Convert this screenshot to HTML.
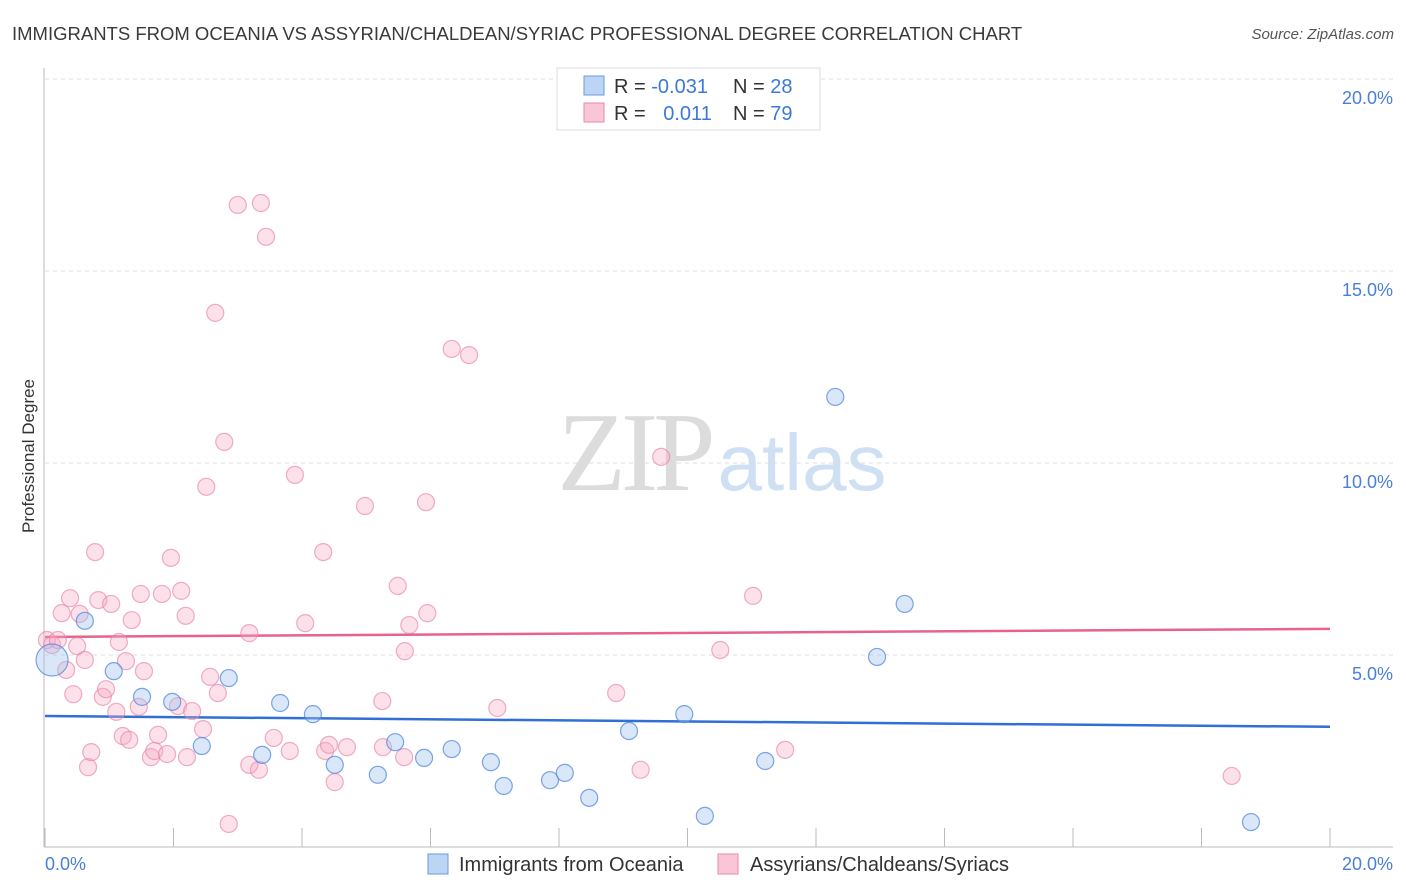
<!DOCTYPE html>
<html><head><meta charset="utf-8"><style>
body{margin:0;background:#fff;font-family:"Liberation Sans",sans-serif;}
svg{display:block}
</style></head><body>
<svg id="chart" width="1406" height="892" xmlns="http://www.w3.org/2000/svg">
<text x="12" y="40" font-size="18.5" fill="#3a3a3a">IMMIGRANTS FROM OCEANIA VS ASSYRIAN/CHALDEAN/SYRIAC PROFESSIONAL DEGREE CORRELATION CHART</text>
<text x="1394" y="39" font-size="15" fill="#555" font-style="italic" text-anchor="end">Source: ZipAtlas.com</text>
<g>
<text x="634" y="490" font-size="112" fill="#dcdcdc" font-family="Liberation Serif,serif" text-anchor="middle" letter-spacing="-5">ZIP</text>
<text x="802" y="490" font-size="80" fill="#cfe0f4" text-anchor="middle">atlas</text>
</g>
<g id="grid"></g>
<g id="axes"></g>
<g id="trend"></g>
<g id="points"></g>
<text x="34" y="456" font-size="17" fill="#333" text-anchor="middle" transform="rotate(-90 34 456)">Professional Degree</text>
<text x="45" y="870" font-size="18" fill="#4a7fd8">0.0%</text>
<text x="1393" y="870" font-size="18" fill="#4a7fd8" text-anchor="end">20.0%</text>
<g>
<rect x="557" y="68" width="263" height="62" fill="#fff" stroke="#ddd"/>
<rect x="584" y="76" width="20" height="19" fill="#bcd5f5" stroke="#6a9ae0"/>
<rect x="584" y="103" width="20" height="19" fill="#f8c6d6" stroke="#e88aa8"/>
<text x="614" y="93" font-size="20" fill="#333">R = <tspan fill="#3c78d8">-0.031</tspan></text>
<text x="733" y="93" font-size="20" fill="#333">N = <tspan fill="#3c78d8">28</tspan></text>
<text x="614" y="120" font-size="20" fill="#333">R = <tspan fill="#3c78d8" dx="12">0.011</tspan></text>
<text x="733" y="120" font-size="20" fill="#333">N = <tspan fill="#3c78d8">79</tspan></text>
</g>
<g>
<rect x="428" y="854" width="20" height="20" fill="#bcd5f5" stroke="#6a9ae0"/>
<text x="459" y="871" font-size="20" fill="#333">Immigrants from Oceania</text>
<rect x="718" y="854" width="20" height="20" fill="#f8c6d6" stroke="#e88aa8"/>
<text x="750" y="871" font-size="20" fill="#333">Assyrians/Chaldeans/Syriacs</text>
</g>
</svg>
<script>
const yTicks=[5,10,15,20];
const yTickLabels=["5.0%","10.0%","15.0%","20.0%"];
const blueX=[0.11,0.62,1.07,1.51,1.98,2.44,2.86,3.38,3.66,4.17,4.51,5.18,5.45,5.90,6.33,6.94,7.14,7.86,8.09,8.47,9.09,9.95,10.27,11.21,12.30,12.95,13.38,18.77];
const blueY=[4.87,5.89,4.58,3.91,3.78,2.63,4.40,2.40,3.75,3.46,2.14,1.88,2.73,2.32,2.55,2.21,1.59,1.74,1.93,1.28,3.02,3.46,0.81,2.24,11.72,4.95,6.33,0.65];
const pinkX=[0.03,0.11,0.20,0.26,0.39,0.33,0.44,0.54,0.50,0.62,0.67,0.72,0.78,0.83,0.90,0.95,1.03,1.11,1.15,1.21,1.26,1.31,1.35,1.46,1.49,1.54,1.65,1.70,1.76,1.82,1.90,1.96,2.07,2.12,2.19,2.21,2.29,2.46,2.51,2.57,2.65,2.69,2.79,2.86,3.00,3.18,3.18,3.33,3.36,3.44,3.56,3.81,3.89,4.05,4.33,4.36,4.42,4.51,4.70,4.98,5.25,5.26,5.49,5.59,5.60,5.67,5.93,5.95,6.33,6.60,7.04,8.89,9.27,9.59,10.51,11.02,11.52,18.47];
const pinkY=[5.39,5.26,5.39,6.09,6.48,4.61,3.98,6.07,5.23,4.87,2.08,2.47,7.68,6.43,3.91,4.11,6.33,3.52,5.34,2.89,4.84,2.79,5.91,3.65,6.59,4.58,2.34,2.50,2.92,6.59,2.42,7.53,3.67,6.67,6.02,2.34,3.54,3.07,9.38,4.43,13.91,4.01,10.55,0.60,16.72,2.14,5.57,2.01,16.77,15.89,2.84,2.50,9.69,5.83,7.68,2.50,2.66,1.69,2.60,8.88,3.80,2.60,6.80,2.34,5.10,5.78,8.98,6.09,12.97,12.81,3.62,4.01,2.01,10.16,5.13,6.54,2.53,1.85];
const blueTrend=[3.41,3.13];
const pinkTrend=[5.47,5.68];
const NS="http://www.w3.org/2000/svg";
const sx=v=>45+v/20*1285;
const sy=v=>847-v*38.4;
function mk(tag,attrs,parent){const e=document.createElementNS(NS,tag);for(const k in attrs)e.setAttribute(k,attrs[k]);document.getElementById(parent).appendChild(e);return e;}
yTicks.forEach((t,i)=>{
 const l=mk('line',{x1:45,x2:1393,y1:sy(t),y2:sy(t),stroke:'#ddd','stroke-dasharray':'4 4'},'grid');
 
 
 const tx=mk('text',{x:1393,y:sy(t)+25,'font-size':18,fill:'#4a7fd8','text-anchor':'end'},'grid');
 tx.textContent=yTickLabels[i];
 
 
});
const ya=mk('line',{x1:44,x2:44,y1:68,y2:847,stroke:'#bbb'},'axes');


const xa=mk('line',{x1:44,x2:1393,y1:847,y2:847,stroke:'#bbb'},'axes');


for(let i=0;i<=10;i++){
 const t=mk('line',{x1:sx(i*2),x2:sx(i*2),y1:828,y2:847,stroke:'#bbb'},'axes');
 
 
}
const bt=mk('line',{x1:sx(0),x2:sx(20),y1:sy(blueTrend[0]),y2:sy(blueTrend[1]),stroke:'#2f6fd6','stroke-width':2.5},'trend');


const pt=mk('line',{x1:sx(0),x2:sx(20),y1:sy(pinkTrend[0]),y2:sy(pinkTrend[1]),stroke:'#e8628e','stroke-width':2.5},'trend');


pinkX.forEach((x,i)=>{
 const c=mk('circle',{cx:sx(x),cy:sy(pinkY[i]),r:8.5,fill:'rgba(245,170,195,0.35)',stroke:'rgba(232,130,165,0.65)','stroke-width':1.2},'points');
 
 
});
blueX.forEach((x,i)=>{
 const c=mk('circle',{cx:sx(x),cy:sy(blueY[i]),r:i===0?16:8.5,fill:'rgba(160,195,240,0.4)',stroke:'rgba(80,135,220,0.75)','stroke-width':1.2},'points');
 
 
});
</script>
</body></html>
